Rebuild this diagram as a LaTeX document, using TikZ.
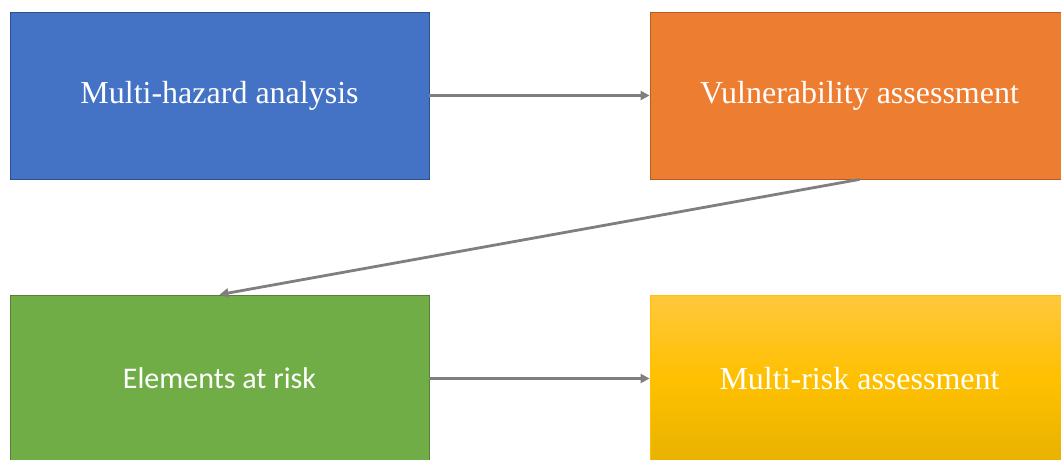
\documentclass[tikz,border=0pt]{standalone}
\usepackage{fontspec}
\setmainfont{Liberation Serif}
\newfontfamily\calfont{Carlito}
\usetikzlibrary{positioning,arrows.meta}
\definecolor{hazblue}{HTML}{4472C4}
\definecolor{vulorange}{HTML}{ED7D31}
\definecolor{elgreen}{HTML}{70AD47}
\definecolor{riskgoldtop}{HTML}{FFC83D}
\definecolor{riskgold}{HTML}{FFC000}
\definecolor{riskgoldbot}{HTML}{E8B200}
\definecolor{linkgray}{HTML}{7F7F7F}
\begin{document}
\begin{tikzpicture}[x=1pt, y=-1pt,
    stagebox/.style={draw, line width=0.8pt, minimum width=419pt, minimum height=167pt,
        text=white, font=\fontsize{32}{38}\selectfont, inner sep=0pt},
    link/.style={draw=linkgray, line width=2.8pt, -{Triangle[length=9pt, width=9pt]}}]
    % 1. Fix the page size
    \useasboundingbox (0,0) rectangle (1061,459);
    \clip (0,0) rectangle (1061,459);

    % 2. The four stage boxes
    \node[stagebox, fill=hazblue, draw=hazblue!70!black] (hazard) at (219.5,95.5) {Multi-hazard analysis};
    \node[stagebox, fill=vulorange, draw=vulorange!75!black] (vuln) at (859.5,95.5) {Vulnerability assessment};
    \node[stagebox, fill=elgreen, draw=elgreen!75!black, font=\calfont\fontsize{30}{36}\selectfont] (elements) at (219.5,378.5) {Elements at risk};
    \node[stagebox, top color=riskgoldtop, bottom color=riskgoldbot, middle color=riskgold, draw=riskgold] (risk) at (859.5,378.5) {Multi-risk assessment};

    % 3. Arrows between the stages
    \draw[link] (hazard) -- (vuln);
    \draw[link] (vuln.south) -- (elements.north);
    \draw[link] (elements) -- (risk);

\end{tikzpicture}
\end{document}
